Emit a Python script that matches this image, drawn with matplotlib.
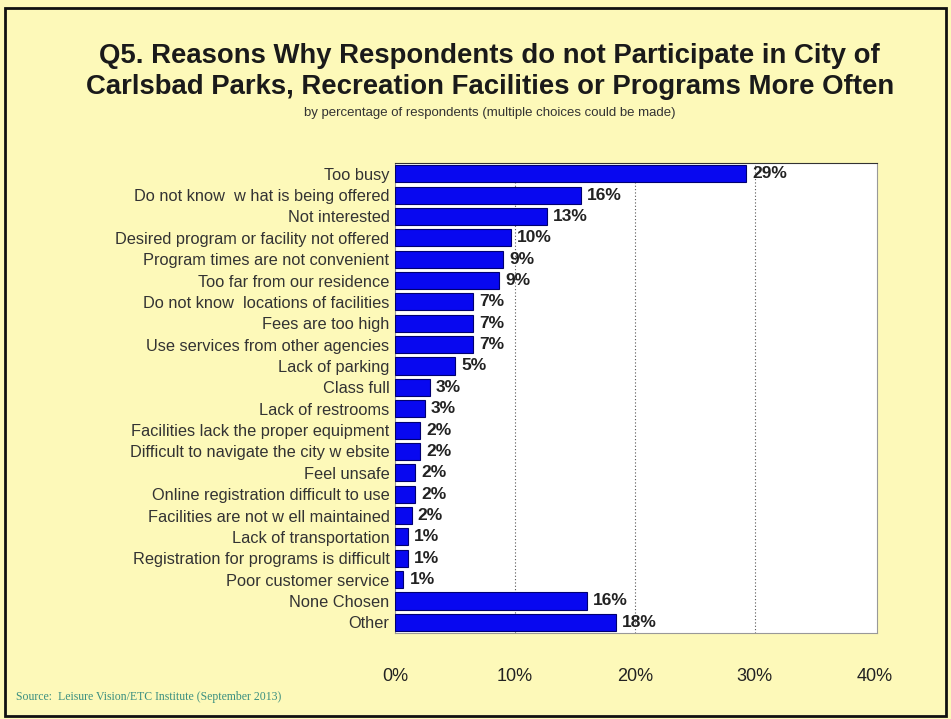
import matplotlib.pyplot as plt
from matplotlib.patches import Rectangle

categories = [
    "Too busy",
    "Do not know  w hat is being offered",
    "Not interested",
    "Desired program or facility not offered",
    "Program times are not convenient",
    "Too far from our residence",
    "Do not know  locations of facilities",
    "Fees are too high",
    "Use services from other agencies",
    "Lack of parking",
    "Class full",
    "Lack of restrooms",
    "Facilities lack the proper equipment",
    "Difficult to navigate the city w ebsite",
    "Feel unsafe",
    "Online registration difficult to use",
    "Facilities are not w ell maintained",
    "Lack of transportation",
    "Registration for programs is difficult",
    "Poor customer service",
    "None Chosen",
    "Other",
]
values = [29.3, 15.5, 12.7, 9.7, 9.0, 8.7, 6.5, 6.5, 6.5, 5.0, 2.9, 2.5,
          2.1, 2.1, 1.7, 1.7, 1.4, 1.1, 1.1, 0.7, 16.0, 18.4]
labels = ["29%", "16%", "13%", "10%", "9%", "9%", "7%", "7%", "7%", "5%", "3%",
          "3%", "2%", "2%", "2%", "2%", "2%", "1%", "1%", "1%", "16%", "18%"]
xticks = [0, 10, 20, 30, 40]

bg = "#FDF9B9"
plt.rcParams['font.family'] = ['Liberation Sans', 'DejaVu Sans']

fig = plt.figure(figsize=(9.51, 7.19), dpi=100, facecolor=bg)
ax = fig.add_axes([395/951, 1 - 633/719, 482/951, 470/719])
ax.set_facecolor("white")

y = list(range(len(categories)))
ax.barh(y, values, height=0.8, color="#0808F0", edgecolor="#000070", linewidth=0.8, zorder=3)
for yi, v, lab in zip(y, values, labels):
    ax.text(v + 0.5, yi, lab, va="center", ha="left", fontsize=12.5,
            fontweight="bold", color="#222222", zorder=4)

ax.set_ylim(len(categories) - 0.5, -0.5)
ax.set_xlim(0, 40.2)
ax.set_yticks(y)
ax.set_yticklabels(categories, fontsize=11.8, color="#333333")
ax.set_xticks(xticks)
ax.set_xticklabels([f"{t}%" for t in xticks], fontsize=13, color="#222222")
ax.tick_params(length=0, pad=4)
ax.tick_params(axis="x", pad=25)
for t in xticks[1:-1]:
    ax.axvline(t, color="#555555", linestyle=(0, (1, 2)), linewidth=0.8, zorder=1)
for s in ax.spines.values():
    s.set_color("#999999")
    s.set_linewidth(0.8)
ax.spines["top"].set_color("#333333")

fig.text(0.515, 0.94, "Q5. Reasons Why Respondents do not Participate in City of\n"
         "Carlsbad Parks, Recreation Facilities or Programs More Often",
         ha="center", va="top", fontsize=19.8, fontweight="bold", color="#1a1a1a",
         linespacing=1.25)
fig.text(0.515, 0.851, "by percentage of respondents (multiple choices could be made)",
         ha="center", va="top", fontsize=9.5, color="#333333")
fig.text(0.017, 0.022, "Source:  Leisure Vision/ETC Institute (September 2013)",
         ha="left", va="bottom", fontsize=8.5, color="#3A8F80", family="Liberation Serif")

fig.patches.append(Rectangle((5/951, 3/719), 941/951, 708/719, transform=fig.transFigure,
                             fill=False, edgecolor="#111111", linewidth=2))

fig.savefig("out.png", dpi=100, facecolor=bg)
